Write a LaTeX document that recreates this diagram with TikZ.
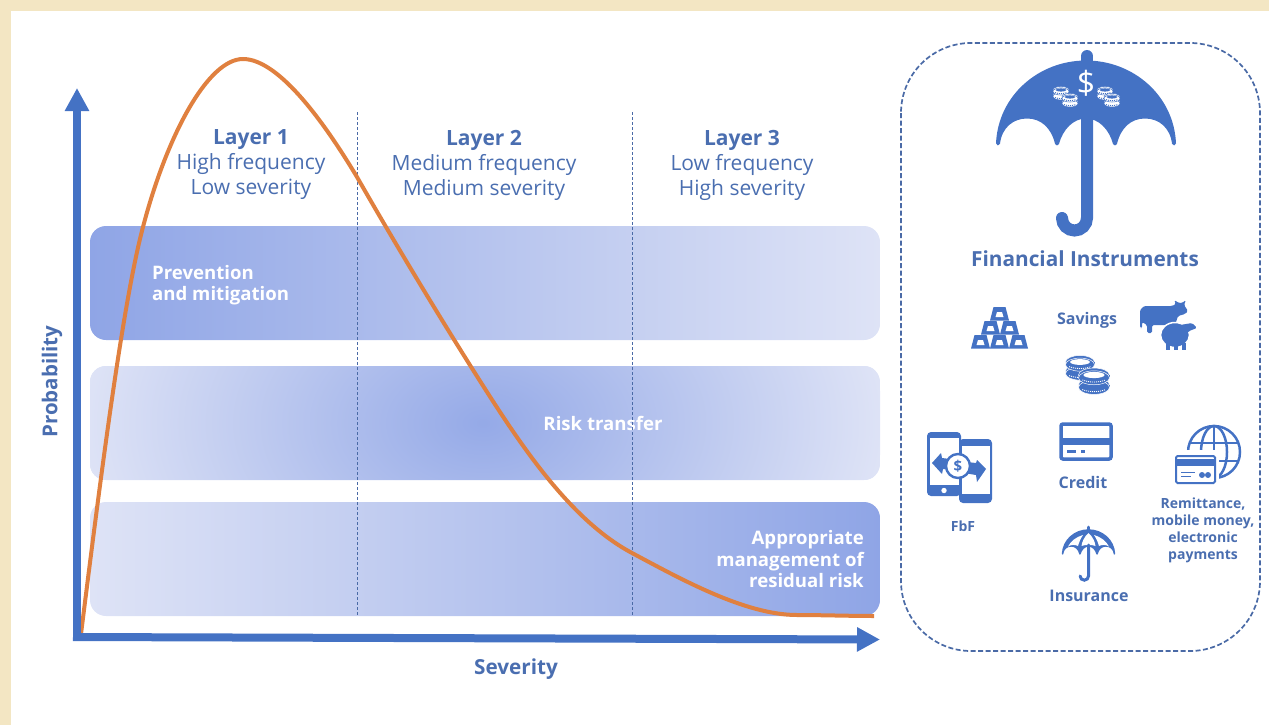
\documentclass[tikz,border=0pt]{standalone}
\usepackage{fontspec}
\setmainfont{Open Sans}
\usetikzlibrary{arrows.meta}
\definecolor{iconblue}{HTML}{4472C4}
\definecolor{textblue}{HTML}{4A6EB0}
\definecolor{dashblue}{HTML}{4A6AA6}
\definecolor{curveorange}{HTML}{E0803F}
\definecolor{framebeige}{HTML}{F3E6C3}
\definecolor{bandpale}{HTML}{DEE3F6}
\definecolor{banddeep}{HTML}{8FA5E6}
\tikzset{
  axisline/.style = {draw = iconblue, line width = 8pt, -{Triangle[length = 23pt, width = 23pt]}},
  layerhead/.style = {text = textblue, align = center, font = \fontsize{21}{25}\selectfont},
  bandlabel/.style = {text = white, inner sep = 0pt, font = \fontsize{18.6}{21.5}\selectfont\bfseries},
  iconlabel/.style = {text = textblue, align = center, font = \fontsize{16}{17}\selectfont\bfseries},
  smalllabel/.style = {text = textblue, align = center, font = \fontsize{14}{17}\selectfont\bfseries},
}
\newcommand{\canopy}{(-88,81) .. controls (-86,34) and (-46,0) .. (0,0) .. controls (46,0) and (86,34) .. (88,81) .. controls (86,64) and (74,54) .. (59,54) .. controls (44,54) and (33,64) .. (29,81) .. controls (25,66) and (14,54) .. (0,54) .. controls (-14,54) and (-25,66) .. (-29,81) .. controls (-33,64) and (-44,54) .. (-59,54) .. controls (-74,54) and (-86,64) .. (-88,81) -- cycle}
\newcommand{\coinpile}[5]{\foreach \k in {1,0} {
  \draw [fill = #4, draw = #5, line width = 0.5pt] (#1,{#2+\k*#3*0.62}) ellipse ({#3} and {#3*0.45});
  \fill [#4] (#1-#3,{#2+\k*#3*0.62}) rectangle (#1+#3,{#2+\k*#3*0.62+#3*0.18});
  \draw [fill = #4, draw = #5, line width = 0.5pt] (#1,{#2+\k*#3*0.62+#3*0.18}) ellipse ({#3} and {#3*0.45});
  \draw [draw = #5, line width = 0.9pt, dash pattern = on 1pt off 1pt] (#1-#3*0.75,{#2+\k*#3*0.62+#3*0.32}) .. controls (#1-#3*0.3,{#2+\k*#3*0.62+#3*0.5}) and (#1+#3*0.3,{#2+\k*#3*0.62+#3*0.5}) .. (#1+#3*0.75,{#2+\k*#3*0.62+#3*0.32});
}
\fill [#5] (#1,#2) ellipse ({#3*0.68} and {#3*0.2});}
\begin{document}
\begin{tikzpicture}[x = 1pt, y = -1pt]
\useasboundingbox (0,0) rectangle (1269,725);
\fill [framebeige] (0,0) rectangle (1269,11);
\fill [framebeige] (0,0) rectangle (11,725);
\shade [rounded corners = 16pt, left color = banddeep, right color = bandpale] (90,226) rectangle (880,340);
\begin{scope}
\clip [rounded corners = 16pt] (90,366) rectangle (880,480);
\fill [bandpale] (90,366) rectangle (880,480);
\shade [inner color = banddeep!95!white, outer color = bandpale] (483,423) ellipse (400 and 260);
\end{scope}
\shade [rounded corners = 16pt, left color = bandpale, right color = banddeep] (90,502) rectangle (880,616);
\node [layerhead] (layerone) at (251,165) {\textbf{Layer 1}\\High frequency\\Low severity};
\node [layerhead] (layertwo) at (484,165) {\textbf{Layer 2}\\Medium frequency\\Medium severity};
\node [layerhead] (layerthree) at (742,165) {\textbf{Layer 3}\\Low frequency\\High severity};
\node [bandlabel, align = left, anchor = west] (prevention) at (152,285) {Prevention\\and mitigation};
\node [bandlabel] (transfer) at (603,423) {Risk transfer};
\node [bandlabel, align = right, anchor = east] (residual) at (864,559.5) {Appropriate\\management of\\residual risk};
\foreach \n in {357,632} \draw [draw = dashblue, line width = 0.8pt, dash pattern = on 3pt off 2pt] (\n,112) -- (\n,615);
\draw [draw = curveorange, line width = 4pt] (81,634) .. controls (101,474) and (123,302) .. (143,227) .. controls (167,135) and (208,59) .. (243,59) .. controls (280,59) and (327,127) .. (357,177) .. controls (397,247) and (445,326) .. (480,381) .. controls (520,444) and (570,520) .. (632,553) .. controls (680,578.6) and (745,615) .. (797,615) .. controls (820,615) and (850,616) .. (874,616);
\coordinate (origin) at (73,637);
\coordinate (xtip) at (880,639.5);
\coordinate (ybase) at (77,640.5);
\coordinate (ytip) at (77,88);
\draw [axisline] (origin) -- (xtip);
\draw [axisline] (ybase) -- (ytip);
\node [text = textblue, font = \fontsize{20.7}{24}\selectfont\bfseries] (severity) at (516,669) {Severity};
\node [text = textblue, rotate = 90, font = \fontsize{20.5}{24}\selectfont\bfseries] (probability) at (52,381.5) {Probability};
\draw [draw = dashblue, line width = 1.7pt, dash pattern = on 5pt off 2.5pt, rounded corners = 70pt] (901,43) rectangle (1260,651);
\begin{scope}[shift = {(1086,62.5)}]
\draw [fill = iconblue, draw = iconblue, line width = 4pt, line join = round] \canopy;
\end{scope}
\draw [draw = iconblue, line width = 12pt, line cap = round] (1087,56) -- (1087,70);
\draw [draw = iconblue, line width = 12pt, line cap = round] (1087,110) -- (1087,218) arc [start angle = 0, end angle = 180, radius = 12.5];
\node [text = white, font = \fontsize{32}{32}\selectfont] (dollar) at (1086,83) {\$};
\coinpile{1061}{90}{8}{white}{iconblue}
\coinpile{1070}{97}{8}{white}{iconblue}
\coinpile{1105}{90}{8}{white}{iconblue}
\coinpile{1112}{97}{8}{white}{iconblue}
\node [text = textblue, font = \fontsize{20.8}{24}\selectfont\bfseries] (instruments) at (1085,259) {Financial Instruments};
\foreach \x/\y in {971/335,990/335,1009/335,981/321,1000/321,990/307} {
  \fill [iconblue] (\x,\y+13.5) -- (\x+19,\y+13.5) -- (\x+15.5,\y) -- (\x+3.5,\y) -- cycle;
  \fill [white] (\x+5.5,\y+10) -- (\x+13.5,\y+10) -- (\x+12,\y+5) -- (\x+7,\y+5) -- cycle;
}
\node [iconlabel] (savings) at (1087,320) {Savings};
\fill [iconblue, rounded corners = 1.5pt] (1140,328) -- (1140,310) -- (1144,306) -- (1172,306) -- (1176,304) -- (1174,300) -- (1179,303) -- (1182,303) -- (1186,300) -- (1184,305) -- (1188,311) -- (1185,314) -- (1178,316) -- (1175,325) -- (1152,325) -- (1152,333) -- (1147,333) -- (1147,325) -- (1142,322) -- (1142,328) -- cycle;
\draw [draw = white, fill = iconblue, line width = 1.5pt] (1175,335) ellipse (14.5 and 12.5);
\fill [iconblue, rounded corners = 1.5pt] (1180,325) -- (1192,323) -- (1197,328) -- (1189,331) -- (1185,336) -- cycle;
\foreach \x in {1168,1176,1184} \fill [iconblue] (\x-1.7,343) rectangle (\x+1.7,350);
\coinpile{1080}{362}{14.5}{iconblue}{white}
\coinpile{1094}{375}{15.5}{iconblue}{white}
\draw [fill = white, draw = iconblue, line width = 3.5pt, rounded corners = 2pt] (1061,424) rectangle (1111,459);
\fill [iconblue] (1061,438) rectangle (1111,445);
\fill [iconblue] (1067,450) rectangle (1076,452.5);
\fill [iconblue] (1081,450) rectangle (1085,452.5);
\node [iconlabel] (credit) at (1083,482) {Credit};
\fill [iconblue, rounded corners = 4pt] (959,439) rectangle (992,503);
\fill [white] (962,445.5) rectangle (989.5,494);
\fill [iconblue, rounded corners = 4pt] (927,432) rectangle (961,496);
\fill [white] (930,437.5) rectangle (958.5,485);
\fill [white] (944,490.5) circle (2.7);
\fill [iconblue] (932,463) -- (941,453) -- (942,458) -- (958,460) -- (958,471) -- (943,469) -- (942,474) -- cycle;
\fill [iconblue] (986,469) -- (977,460) -- (976,463) -- (958,461) -- (958,472) -- (976,475) -- (977,482) -- cycle;
\draw [fill = white, draw = iconblue, line width = 2.4pt] (958,466) circle (12);
\node [text = iconblue, inner sep = 0pt, font = \fontsize{15}{15}\selectfont\bfseries] (fbfdollar) at (958,466) {\$};
\node [smalllabel] (fbf) at (963,526) {FbF};
\draw [draw = iconblue, line width = 2.5pt] (1214,452) circle (26);
\draw [draw = iconblue, line width = 2.5pt] (1214,426) -- (1214,478);
\draw [draw = iconblue, line width = 2.5pt] (1214,452) ellipse (13 and 26);
\draw [draw = iconblue, line width = 2.5pt] (1190,443) -- (1238,443);
\draw [draw = iconblue, line width = 2.5pt] (1190,461) -- (1238,461);
\fill [white] (1170,450) rectangle (1219,488);
\draw [fill = white, draw = iconblue, line width = 2pt, rounded corners = 1.5pt] (1176,456) rectangle (1215,483);
\fill [iconblue] (1176,459) rectangle (1215,466);
\draw [draw = iconblue, line width = 1pt] (1181,472) -- (1195,472);
\draw [draw = iconblue, line width = 1pt] (1181,476) -- (1191,476);
\fill [iconblue] (1202,475) circle (3);
\fill [iconblue] (1208,475) circle (3);
\node [smalllabel] (remittance) at (1203,530.5) {Remittance,\\mobile money,\\electronic\\payments};
\begin{scope}[shift = {(1088.5,530)}, scale = 0.295]
\draw [fill = iconblue, draw = iconblue, line width = 1.5pt, line join = round] \canopy;
\end{scope}
\fill [white] (1088.5,533) .. controls (1084,537) and (1082,542) .. (1081.5,546) .. controls (1085,544.5) and (1092,544.5) .. (1095.5,546) .. controls (1095,542) and (1093,537) .. (1088.5,533) -- cycle;
\fill [white] (1083,535) .. controls (1076,537) and (1071,541) .. (1068,546.5) .. controls (1071,544.5) and (1075,544.5) .. (1078,546) .. controls (1079,542) and (1081,538) .. (1083,535) -- cycle;
\fill [white] (1094,535) .. controls (1101,537) and (1106,541) .. (1109,546.5) .. controls (1106,544.5) and (1102,544.5) .. (1099,546) .. controls (1098,542) and (1096,538) .. (1094,535) -- cycle;
\draw [draw = iconblue, line width = 2.6pt, line cap = round] (1088.5,527) -- (1088.5,531);
\draw [draw = iconblue, line width = 3pt, line cap = round] (1088.5,545) -- (1088.5,576) arc [start angle = 0, end angle = 180, radius = 4.2];
\node [iconlabel] (insurance) at (1089,596) {Insurance};
\end{tikzpicture}
\end{document}
